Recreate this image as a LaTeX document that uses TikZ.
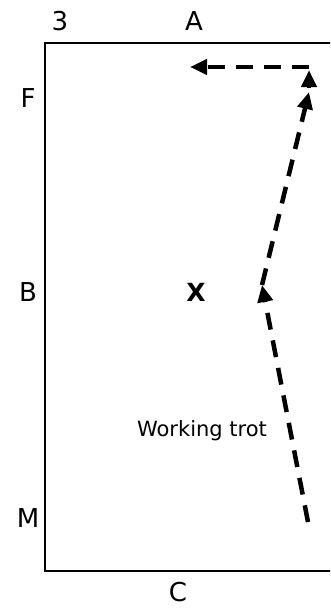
\documentclass[tikz,border=0pt]{standalone}
\usepackage{fontspec}
\setmainfont{DejaVu Sans}
\usetikzlibrary{arrows.meta}

\tikzset{
    letter/.style={font=\fontsize{26}{30}\selectfont, inner sep=0pt},
    route/.style={line width=4.5pt, dash pattern=on 17pt off 11pt,
        -{Triangle[length=17pt,width=15pt]}},
}

\begin{document}
\begin{tikzpicture}[x=1pt,y=-1pt]
    \clip (0,0) rectangle (330,610);
    \fill[white] (0,0) rectangle (330,610);

    % arena
    \draw[line width=2.2pt] (360,43) -- (45,43) -- (45,571) -- (360,571);

    % markers
    \node[letter] (three) at (60,21) {3};
    \node[letter] (markA) at (194,21) {A};
    \node[letter] (markF) at (28,98) {F};
    \node[letter] (markB) at (28,292) {B};
    \node[letter] (markM) at (28,518) {M};
    \node[letter] (markC) at (178,592) {C};
    \node[letter, font=\fontsize{25}{30}\selectfont\bfseries] (markX) at (196,292) {X};

    % route
    \coordinate (start) at (308,522);
    \coordinate (kink) at (262,285);
    \coordinate (top) at (309,92);
    \coordinate (nose) at (309,88);
    \coordinate (peak) at (309,70);
    \coordinate (corner) at (309,67);
    \coordinate (finish) at (190,67);

    \draw[route] (start) -- (kink);
    \draw[route] (kink) -- (top);
    \draw[route] (nose) -- (peak);
    \draw[route] (corner) -- (finish);

    \node[font=\fontsize{21}{24}\selectfont] (gait) at (202,431) {Working trot};
\end{tikzpicture}
\end{document}
